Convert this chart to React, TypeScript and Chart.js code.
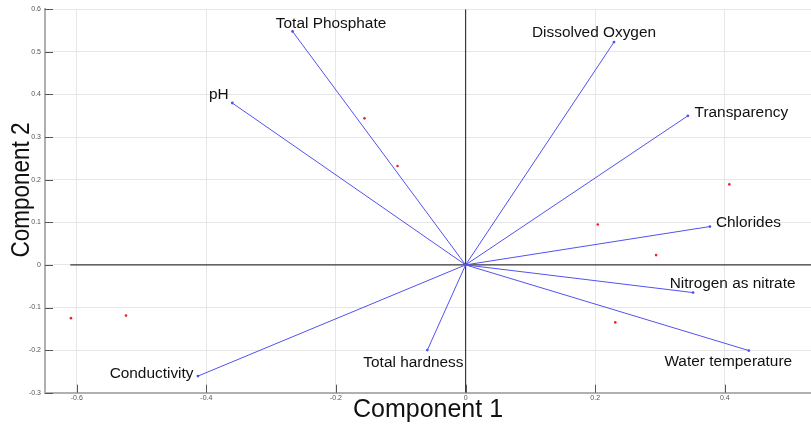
import { useEffect, useRef } from 'react';
import { Chart, registerables } from 'chart.js';

Chart.register(...registerables);

// ---- data ----
const variables = [
  'Total Phosphate',
  'pH',
  'Dissolved Oxygen',
  'Transparency',
  'Chlorides',
  'Nitrogen as nitrate',
  'Water temperature',
  'Conductivity',
  'Total hardness',
];
const loadingsPC1 = [-0.267, -0.36, 0.229, 0.343, 0.377, 0.351, 0.437, -0.413, -0.059];
const loadingsPC2 = [0.548, 0.38, 0.523, 0.35, 0.09, -0.065, -0.201, -0.261, -0.2];

const scoresPC1 = [-0.609, -0.524, -0.156, -0.105, 0.204, 0.407, 0.294, 0.231];
const scoresPC2 = [-0.125, -0.119, 0.344, 0.232, 0.095, 0.189, 0.023, -0.135];

const xTicks = [-0.6, -0.4, -0.2, 0, 0.2, 0.4];
const yTicks = [-0.3, -0.2, -0.1, 0, 0.1, 0.2, 0.3, 0.4, 0.5, 0.6];
const xRange = [-0.649, 0.533];
const yRange = [-0.3, 0.6];
const zeroLineXStart = -0.61;

const xTitle = 'Component 1';
const yTitle = 'Component 2';

// ---- styles (pixel offsets of the variable labels from their vector tips) ----
const labelOffsets: [number, number][] = [
  [-16.7, -3.2],
  [-23.4, -4.3],
  [-82, -5.6],
  [6.7, 0.7],
  [6, 0.6],
  [-23.3, -4.4],
  [-84.4, 15],
  [-88.3, 1.7],
  [-64, 17.3],
];

const BLUE = 'rgb(82,82,240)';
const RED = 'rgb(240,30,50)';
const FONT = '"Liberation Sans", Arial, Helvetica, sans-serif';

const fmt = (v: number) => {
  const r = Math.round(v * 10) / 10;
  return r === 0 ? '0' : String(r);
};

const overlay = {
  id: 'overlay',
  afterDraw(chart: any) {
    const { ctx, chartArea, scales } = chart;
    const xs = scales.x;
    const ys = scales.y;
    ctx.save();
    // inward ticks
    ctx.strokeStyle = '#555';
    ctx.lineWidth = 1;
    ctx.beginPath();
    xTicks.forEach((t) => {
      const px = Math.round(xs.getPixelForValue(t)) + 0.5;
      ctx.moveTo(px, chartArea.bottom);
      ctx.lineTo(px, chartArea.bottom - 8);
    });
    yTicks.forEach((t) => {
      const py = Math.round(ys.getPixelForValue(t)) + 0.5;
      ctx.moveTo(chartArea.left, py);
      ctx.lineTo(chartArea.left + 8, py);
    });
    ctx.stroke();

    // variable labels
    ctx.fillStyle = '#111';
    ctx.font = `15.4px ${FONT}`;
    ctx.textAlign = 'left';
    ctx.textBaseline = 'alphabetic';
    variables.forEach((name, i) => {
      const px = xs.getPixelForValue(loadingsPC1[i]) + labelOffsets[i][0];
      const py = ys.getPixelForValue(loadingsPC2[i]) + labelOffsets[i][1];
      ctx.fillText(name, px, py);
    });

    // axis titles
    ctx.font = `25px ${FONT}`;
    ctx.textAlign = 'center';
    ctx.fillText(xTitle, (chartArea.left + chartArea.right) / 2, 417);
    ctx.translate(29, 190);
    ctx.rotate(-Math.PI / 2);
    ctx.scale(0.9, 1);
    ctx.fillText(yTitle, 0, 0);
    ctx.restore();
  },
};

export default function App() {
  const ref = useRef<HTMLCanvasElement>(null);

  useEffect(() => {
    const canvas = ref.current;
    if (!canvas) return;
    const datasets: any[] = [];
    datasets.push({
      data: [
        { x: zeroLineXStart, y: 0 },
        { x: xRange[1], y: 0 },
      ],
      showLine: true,
      borderColor: '#3a3a3a',
      borderWidth: 1.2,
      pointRadius: 0,
      order: 10,
    });
    datasets.push({
      data: [
        { x: 0, y: yRange[0] },
        { x: 0, y: yRange[1] },
      ],
      showLine: true,
      borderColor: '#3a3a3a',
      borderWidth: 1.2,
      pointRadius: 0,
      order: 10,
    });
    variables.forEach((_, i) => {
      datasets.push({
        data: [
          { x: 0, y: 0 },
          { x: loadingsPC1[i], y: loadingsPC2[i] },
        ],
        showLine: true,
        borderColor: BLUE,
        borderWidth: 1,
        pointRadius: [0, 1.4],
        pointBackgroundColor: BLUE,
        pointBorderWidth: 0,
        order: 5,
      });
    });
    datasets.push({
      data: scoresPC1.map((x, i) => ({ x, y: scoresPC2[i] })),
      showLine: false,
      pointRadius: 1.3,
      pointBackgroundColor: RED,
      pointBorderWidth: 0,
      order: 1,
    });

    const chart = new Chart(canvas, {
      type: 'scatter',
      data: { datasets },
      options: {
        responsive: false,
        animation: false,
        devicePixelRatio: 1,
        layout: { autoPadding: false, padding: { top: 9.3, left: 0, right: 0, bottom: 0 } },
        plugins: { legend: { display: false }, tooltip: { enabled: false } },
        scales: {
          x: {
            type: 'linear',
            min: xRange[0],
            max: xRange[1],
            afterBuildTicks: (s: any) => {
              s.ticks = xTicks.map((value) => ({ value }));
            },
            afterFit: (s: any) => {
              s.height = 31.3;
              s.paddingLeft = 0;
              s.paddingRight = 0;
            },
            ticks: {
              autoSkip: false,
              maxRotation: 0,
              padding: 1,
              color: '#555',
              font: { size: 7, family: FONT },
              callback: (v: any) => fmt(Number(v)),
            },
            grid: { color: '#e6e6e6', lineWidth: 1, drawTicks: false },
            border: { color: '#b0b0b0', width: 2 },
          },
          y: {
            type: 'linear',
            min: yRange[0],
            max: yRange[1],
            afterBuildTicks: (s: any) => {
              s.ticks = yTicks.map((value) => ({ value }));
            },
            afterFit: (s: any) => {
              s.width = 45;
              s.paddingTop = 0;
              s.paddingBottom = 0;
            },
            ticks: {
              autoSkip: false,
              padding: 4,
              color: '#555',
              font: { size: 7, family: FONT },
              callback: (v: any) => fmt(Number(v)),
            },
            grid: { color: '#e6e6e6', lineWidth: 1, drawTicks: false },
            border: { color: '#b0b0b0', width: 2 },
          },
        },
      },
      plugins: [overlay],
    } as any);
    return () => chart.destroy();
  }, []);

  return (
    <div style={{ position: 'fixed', left: 0, top: 0, width: 811, height: 424, background: '#fff' }}>
      <canvas ref={ref} width={811} height={424} style={{ display: 'block', width: 811, height: 424 }} />
    </div>
  );
}
